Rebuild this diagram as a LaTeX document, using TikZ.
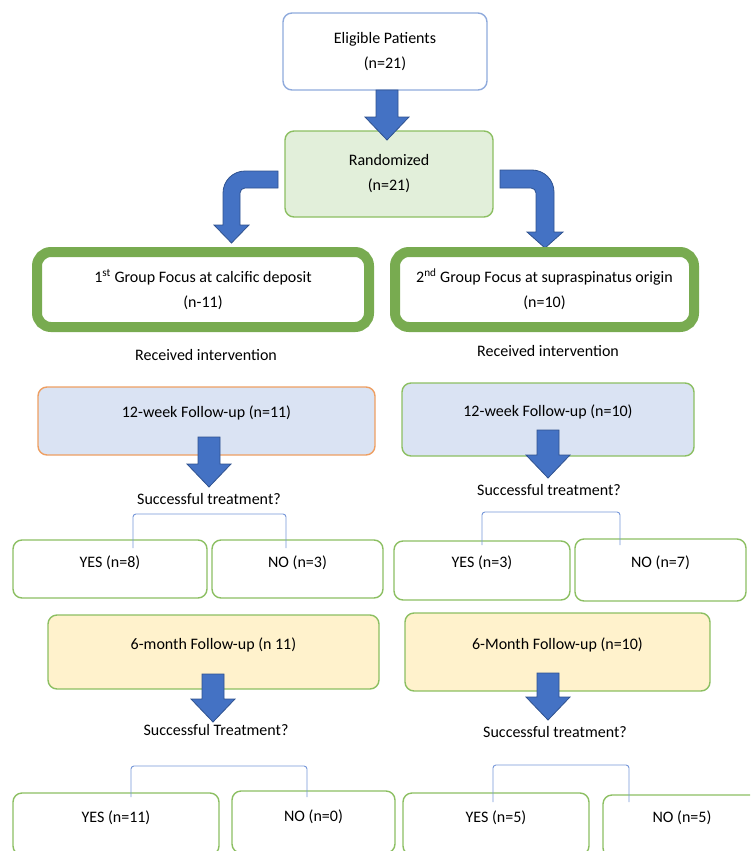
\documentclass[tikz,border=0pt]{standalone}
\usepackage{fontspec}
\setmainfont{Carlito}
\definecolor{arrblue}{HTML}{4472C4}
\definecolor{arrdark}{HTML}{2F528F}
\definecolor{eligblue}{HTML}{8FAADC}
\definecolor{boxgrn}{HTML}{8CBF62}
\definecolor{grpgrn}{HTML}{78AB50}
\definecolor{rndfill}{HTML}{E2EFDA}
\definecolor{wkfill}{HTML}{DAE3F3}
\definecolor{wkorange}{HTML}{EE9F62}
\definecolor{mofill}{HTML}{FFF2CC}
\definecolor{brkblue}{HTML}{7596D8}
% block arrow: x, top, tip
\newcommand{\blkarrow}[3]{\filldraw[blk] (#1-11,#2) -- (#1+11,#2) -- (#1+11,#3-23) -- (#1+22,#3-23) -- (#1,#3) -- (#1-22,#3-23) -- (#1-11,#3-23) -- cycle;}
\begin{document}
\begin{tikzpicture}[x=1pt, y=-1pt, font=\fontsize{16}{25}\selectfont,
  box/.style={draw=boxgrn, line width=1.4pt, rounded corners=9pt, inner sep=0pt, align=center},
  grp/.style={box, draw=grpgrn, line width=10pt, rounded corners=14pt},
  blk/.style={fill=arrblue, draw=arrdark, line width=0.8pt, line join=miter},
  brk/.style={draw=brkblue, line width=0.9pt, rounded corners=3pt}]
\useasboundingbox (0,0) rectangle (750,851);
\clip (0,0) rectangle (750,851);
% top
\node[box, draw=eligblue, minimum width=204pt, minimum height=77pt] (elig) at (385,51.5) {Eligible Patients\\(n=21)};
\node[box, fill=rndfill, minimum width=208pt, minimum height=86pt] (rnd) at (389,174) {Randomized\\(n=21)};
\blkarrow{387}{90}{140}
% Randomisierung links/rechts
\filldraw[blk] (278,171) -- (245,171) arc[start angle=-90, end angle=-180, radius=22] -- (223,225) -- (214,225) -- (231.5,243) -- (249,225) -- (240,225) -- (240,193) arc[start angle=180, end angle=270, radius=5] -- (278,188) -- cycle;
\filldraw[blk] (500,170) -- (532,170) arc[start angle=-90, end angle=0, radius=22] -- (554,232) -- (563,232) -- (545,248) -- (527,232) -- (536,232) -- (536,193) arc[start angle=0, end angle=-90, radius=5] -- (500,188) -- cycle;
% groups
\node[grp, minimum width=332pt, minimum height=75pt] (grp1) at (203,289.5) {1\textsuperscript{st} Group Focus at calcific deposit\\(n-11)};
\node[grp, minimum width=299pt, minimum height=75pt] (grp2) at (544.5,289.5) {2\textsuperscript{nd} Group Focus at supraspinatus origin\\(n=10)};
\node (recv1) at (206,355) {Received intervention};
\node (recv2) at (548,351) {Received intervention};
% 12-week
\node[box, draw=wkorange, fill=wkfill, minimum width=337pt, minimum height=68pt, label={[name=wk1t, yshift=8pt]center:12-week Follow-up (n=11)}] (wk1) at (206.5,421) {};
\node[box, fill=wkfill, minimum width=292pt, minimum height=73pt, label={[name=wk2t, yshift=7.5pt]center:12-week Follow-up (n=10)}] (wk2) at (548,419.5) {};
\blkarrow{209}{437}{487}
\blkarrow{548}{430}{478}
\node (q1) at (209,499) {Successful treatment?};
\node (q2) at (549,490) {Successful treatment?};
\node[box, minimum width=194pt, minimum height=58pt, label={[name=yes1t, yshift=6pt]center:YES (n=8)}] (yes1) at (110,569) {};
\node[box, minimum width=171pt, minimum height=58pt, label={[name=no1t, yshift=6pt]center:NO (n=3)}] (no1) at (297.5,569) {};
\node[box, minimum width=176pt, minimum height=59pt, label={[name=yes2t, yshift=7.5pt]center:YES (n=3)}] (yes2) at (482,570.5) {};
\node[box, minimum width=171pt, minimum height=62pt, label={[name=no2t, yshift=7pt]center:NO (n=7)}] (no2) at (660.5,570) {};
\draw[brk] (133,548) |- (210,514) -| (286,548);
\draw[brk] (482,545) |- (550,512) -| (620,545);
% 6-month
\node[box, fill=mofill, minimum width=331pt, minimum height=74pt, label={[name=mo1t, yshift=7pt]center:6-month Follow-up (n 11)}] (mo1) at (213.5,652) {};
\node[box, fill=mofill, minimum width=305pt, minimum height=78pt, label={[name=mo2t, yshift=7pt]center:6-Month Follow-up (n=10)}] (mo2) at (557.5,652) {};
\node (q3) at (216,730) {Successful Treatment?};
\node (q4) at (555,732) {Successful treatment?};
\blkarrow{213}{674}{722}
\blkarrow{548}{673}{720}
\node[box, minimum width=206pt, minimum height=62pt, label={[name=yes3t, yshift=6pt]center:YES (n=11)}] (yes3) at (116,824) {};
\node[box, minimum width=163pt, minimum height=62pt, label={[name=no3t, yshift=5pt]center:NO (n=0)}] (no3) at (313.5,822) {};
\node[box, minimum width=186pt, minimum height=62pt, label={[name=yes4t, yshift=6pt]center:YES (n=5)}] (yes4) at (496,824) {};
\node[box, minimum width=158pt, minimum height=62pt, label={[name=no4t, yshift=8pt]center:NO (n=5)}] (no4) at (682,826) {};
\draw[brk] (131,797) |- (220,766) -| (307,797);
\draw[brk] (493,802) |- (560,765) -| (629,802);
\end{tikzpicture}
\end{document}
